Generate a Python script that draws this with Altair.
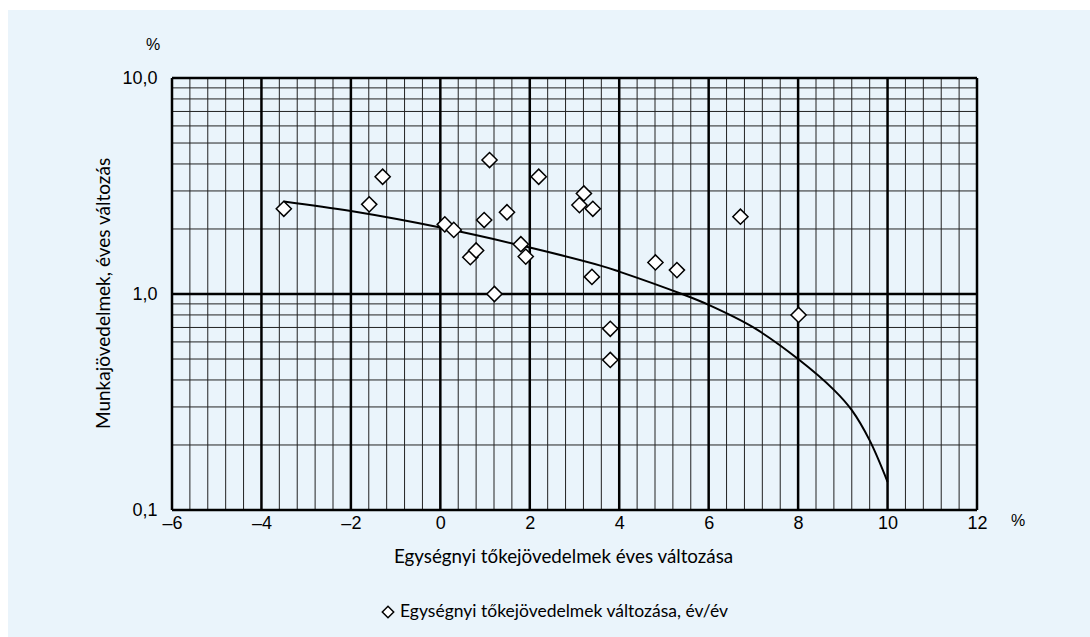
import altair as alt
import pandas as pd

# Scatter: annual change of unit capital income (x) vs. labour income (y), %
pts_x = [-3.5, -1.59, -1.29, 0.10, 0.30, 0.67, 0.80, 0.98, 1.10, 1.21, 1.49, 1.80,
         1.91, 2.20, 3.21, 3.11, 3.41, 3.39, 6.71, 4.81, 5.29, 3.80, 3.80, 8.01]
pts_y = [2.48, 2.60, 3.49, 2.10, 1.98, 1.48, 1.59, 2.20, 4.17, 1.00, 2.39, 1.70,
         1.49, 3.49, 2.92, 2.58, 2.48, 1.20, 2.28, 1.40, 1.29, 0.69, 0.495, 0.80]

# Trade-off curve
curve_x = [-3.5, -2.0, 0.0, 2.0, 3.6, 4.0, 5.4, 6.0, 7.0, 8.0, 8.8, 9.2, 9.6, 10.0]
curve_y = [2.68, 2.42, 2.03, 1.64, 1.35, 1.27, 1.00, 0.89, 0.70, 0.50, 0.36, 0.29, 0.21, 0.135]

x_ticks = [-6, -4, -2, 0, 2, 4, 6, 8, 10, 12]
y_ticks = [0.1, 1.0, 10.0]
legend_label = "Egységnyi tőkejövedelmek változása, év/év"

W, H = 805, 432
PAD_L, PAD_T = 172, 78
BG = "#eaf4fb"

x_minor = [round(-6 + 0.4 * i, 1) for i in range(46) if (i % 5) != 0]
y_minor = [d * m for m in (0.1, 1.0) for d in range(2, 10)]

pts = pd.DataFrame({"x": pts_x, "y": pts_y})
curve = pd.DataFrame({"x": curve_x, "y": curve_y})

xs = alt.Scale(domain=[-6, 12], nice=False, zero=False)
ys = alt.Scale(type="log", domain=[0.1, 10], nice=False)

x_axis = alt.Axis(
    values=x_ticks, grid=False, ticks=False, domain=False, zindex=2,
    labelFont="Liberation Sans", labelFontSize=18, labelColor="#000000",
    labelPadding=4, labelFlush=False,
    labelExpr="datum.value < 0 ? '\u2013' + abs(datum.value) : '' + datum.value",
    title="Egységnyi tőkejövedelmek éves változása",
    titleFont="Lato", titleFontSize=18.8, titleFontWeight="normal",
    titleColor="#000000", titleX=391, titleY=46, titleBaseline="middle",
    titleAnchor="middle", titleAlign="center",
)
y_axis = alt.Axis(
    values=y_ticks, grid=False, ticks=False, domain=False, zindex=2,
    labelFont="Liberation Sans", labelFontSize=18, labelColor="#000000",
    labelPadding=15, labelFlush=False,
    labelExpr="replace(format(datum.value, '.1f'), '.', ',')",
    title="Munkajövedelmek, éves változás",
    titleFont="Lato", titleFontSize=19, titleFontWeight="normal",
    titleColor="#000000", titleX=-69, titleY=215, titleBaseline="middle",
    titleAnchor="middle", titleAlign="center",
)

backdrop = alt.Chart(pd.DataFrame({"a": [0]})).mark_rect(color=BG).encode(
    x=alt.value(8 - PAD_L), x2=alt.value(1090 - PAD_L),
    y=alt.value(10 - PAD_T), y2=alt.value(637 - PAD_T),
)

vminor = alt.Chart(pd.DataFrame({"x": x_minor})).mark_rule(
    color="#222222", strokeWidth=1).encode(x=alt.X("x:Q", scale=xs, axis=x_axis))
hminor = alt.Chart(pd.DataFrame({"y": y_minor})).mark_rule(
    color="#222222", strokeWidth=1).encode(y=alt.Y("y:Q", scale=ys, axis=y_axis))
vmajor = alt.Chart(pd.DataFrame({"x": x_ticks})).mark_rule(
    color="#000000", strokeWidth=2.5).encode(x=alt.X("x:Q", scale=xs, axis=x_axis))
hmajor = alt.Chart(pd.DataFrame({"y": y_ticks})).mark_rule(
    color="#000000", strokeWidth=2.5).encode(y=alt.Y("y:Q", scale=ys, axis=y_axis))

line = alt.Chart(curve).mark_line(
    color="#000000", strokeWidth=2, interpolate="catmull-rom").encode(
    x=alt.X("x:Q", scale=xs, axis=x_axis),
    y=alt.Y("y:Q", scale=ys, axis=y_axis),
)

points = alt.Chart(pts).mark_point(
    shape="diamond", filled=True, fill="white", stroke="black", strokeWidth=1.5,
    size=230, opacity=1,
).encode(
    x=alt.X("x:Q", scale=xs, axis=x_axis),
    y=alt.Y("y:Q", scale=ys, axis=y_axis),
)

# Legend row below the chart: hollow diamond key plus its label
key = pd.DataFrame({"t": [legend_label]})
legend_symbol = alt.Chart(key).mark_point(
    shape="diamond", filled=True, fill="white", stroke="black", strokeWidth=1.5,
    size=130, opacity=1,
).encode(x=alt.value(388 - PAD_L), y=alt.value(612 - PAD_T))
legend_text = alt.Chart(key).mark_text(
    font="Lato", fontSize=17.5, color="#000000", align="left", baseline="middle",
).encode(text="t:N", x=alt.value(400 - PAD_L), y=alt.value(612 - PAD_T))

unit_top = alt.Chart(pd.DataFrame({"t": ["%"]})).mark_text(
    font="Liberation Sans", fontSize=16, color="#000000").encode(
    text="t:N", x=alt.value(153 - PAD_L), y=alt.value(45 - PAD_T))
unit_right = alt.Chart(pd.DataFrame({"t": ["%"]})).mark_text(
    font="Liberation Sans", fontSize=16, color="#000000").encode(
    text="t:N", x=alt.value(1018 - PAD_L), y=alt.value(521 - PAD_T))

chart = alt.layer(
    backdrop, vminor, hminor, vmajor, hmajor, line, points,
    legend_symbol, legend_text, unit_top, unit_right
).properties(
    width=W, height=H,
    padding={"left": PAD_L, "top": PAD_T, "right": 1090 - PAD_L - W, "bottom": 637 - PAD_T - H},
    autosize=alt.AutoSizeParams(type="none"),
    background="white",
).configure_view(stroke=None, fill=None)

chart.save("out.html", embed_options={"renderer": "svg", "actions": False})
